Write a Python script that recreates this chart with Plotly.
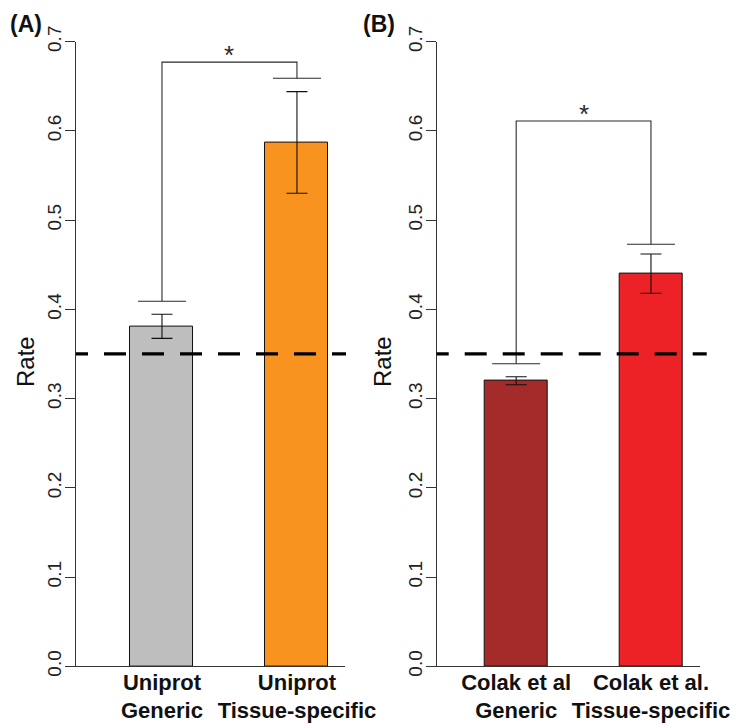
import plotly.graph_objects as go

# ---------------- data ----------------
panel_labels = ["(A)", "(B)"]
cats_a = ["Uniprot<br>Generic", "Uniprot<br>Tissue-specific"]
cats_b = ["Colak et al<br>Generic", "Colak et al.<br>Tissue-specific"]
rate_a = [0.381, 0.587]
err_a = [0.0135, 0.057]
rate_b = [0.320, 0.440]
err_b = [0.0045, 0.022]
colors_a = ["#BEBEBE", "#F7931E"]
colors_b = ["#A52A2A", "#ED2226"]
bracket_a_bottoms = [0.409, 0.659]
bracket_a_top = 0.677
bracket_b_bottoms = [0.339, 0.473]
bracket_b_top = 0.611
sig_label = "*"
reference_rate = 0.35
y_ticks = [0.0, 0.1, 0.2, 0.3, 0.4, 0.5, 0.6, 0.7]
y_ticktext = ["0.0", "0.1", "0.2", "0.3", "0.4", "0.5", "0.6", "0.7"]
y_title = "Rate"

# ---------------- layout constants ----------------
OFF = 8                      # page body margin of the browser
W, H = 742 - OFF, 726 - OFF
FONT = "Liberation Sans, Arial, Helvetica, sans-serif"
pos = [0, 1]
BAR_W = 0.467
CAP_W = 0.178
AX_COL = "#333333"
DASH = "12px,16px," + ",".join(["22px,16px"] * 8)


def px_x(sx):
    return (sx - OFF) / W


def px_y(sy):
    return (H - (sy - OFF)) / H


fig = go.Figure()


def add_panel(rates, errs, colors, bottoms, top, xa, ya):
    fig.add_trace(go.Bar(
        x=pos, y=rates, width=BAR_W,
        marker=dict(color=colors, line=dict(color="#111111", width=1)),
        error_y=dict(type="data", array=errs, visible=True,
                     color="#111111", thickness=1.1, width=10.5),
        xaxis=xa, yaxis=ya, showlegend=False, hoverinfo="skip",
    ))
    xs = [pos[0] - CAP_W, pos[0] + CAP_W, None,
          pos[0], pos[0], pos[1], pos[1], None,
          pos[1] - CAP_W, pos[1] + CAP_W]
    ys = [bottoms[0], bottoms[0], None,
          bottoms[0], top, top, bottoms[1], None,
          bottoms[1], bottoms[1]]
    fig.add_trace(go.Scatter(
        x=xs, y=ys, mode="lines", line=dict(color="#2a2a2a", width=1.1),
        xaxis=xa, yaxis=ya, showlegend=False, hoverinfo="skip",
    ))
    fig.add_annotation(
        x=(pos[0] + pos[1]) / 2, y=top, xref=xa, yref=ya, text=sig_label,
        showarrow=False, yanchor="middle", yshift=7,
        font=dict(family=FONT, size=26, color="#2a2a2a"),
    )


add_panel(rate_a, err_a, colors_a, bracket_a_bottoms, bracket_a_top, "x", "y")
add_panel(rate_b, err_b, colors_b, bracket_b_bottoms, bracket_b_top, "x2", "y2")

ydom = [px_y(666.3), px_y(41.6)]
yax = dict(
    range=[0, 0.7], domain=ydom, tickvals=y_ticks, ticktext=y_ticktext,
    tickangle=-90, ticks="outside", ticklen=10, tickwidth=1, tickcolor=AX_COL,
    showline=True, linecolor=AX_COL, linewidth=1, showgrid=False, zeroline=False,
    tickfont=dict(family=FONT, size=19, color="#222222"), ticklabelstandoff=-4,
    automargin=False,
)


def xax(cats, dom, rng, anchor):
    return dict(
        domain=dom, range=rng, tickvals=pos,
        ticktext=["<b>" + c.replace("<br>", "</b><br><b>") + "</b>" for c in cats],
        ticks="", showline=True, linecolor=AX_COL, linewidth=1,
        showgrid=False, zeroline=False, anchor=anchor, tickangle=0,
        tickfont=dict(family=FONT, size=22, color="#111111"),
        ticklabelstandoff=-4, automargin=False,
    )


fig.update_layout(
    width=W, height=H, margin=dict(l=0, r=0, t=0, b=0, autoexpand=False),
    paper_bgcolor="white", plot_bgcolor="white",
    xaxis=xax(cats_a, [px_x(76), px_x(345)], [-0.637, 1.356], "y"),
    xaxis2=xax(cats_b, [px_x(436.7), px_x(700)], [-0.5896, 1.3637], "y2"),
    yaxis=dict(yax, anchor="x"),
    yaxis2=dict(yax, anchor="x2"),
    bargap=0,
)

# reference dashed line
for xr, yr, x1 in (("x domain", "y", 270 / 269), ("x2 domain", "y2", 270 / 263.3)):
    fig.add_shape(type="line", xref=xr, yref=yr,
                  x0=0, x1=x1, y0=reference_rate, y1=reference_rate,
                  line=dict(color="black", width=3.2, dash=DASH), layer="above")

# axis titles and panel labels
for sx in (25, 382):
    fig.add_annotation(x=px_x(sx), y=px_y(362), xref="paper", yref="paper",
                       text=y_title, textangle=-90, showarrow=False,
                       xanchor="center", yanchor="middle",
                       font=dict(family=FONT, size=24, color="#111111"))
for lab, sx in zip(panel_labels, (8, 361)):
    fig.add_annotation(x=px_x(sx), y=px_y(24), xref="paper", yref="paper",
                       text="<b>" + lab + "</b>", showarrow=False,
                       xanchor="left", yanchor="middle",
                       font=dict(family=FONT, size=23, color="#111111"))

fig.write_html("out.html")
